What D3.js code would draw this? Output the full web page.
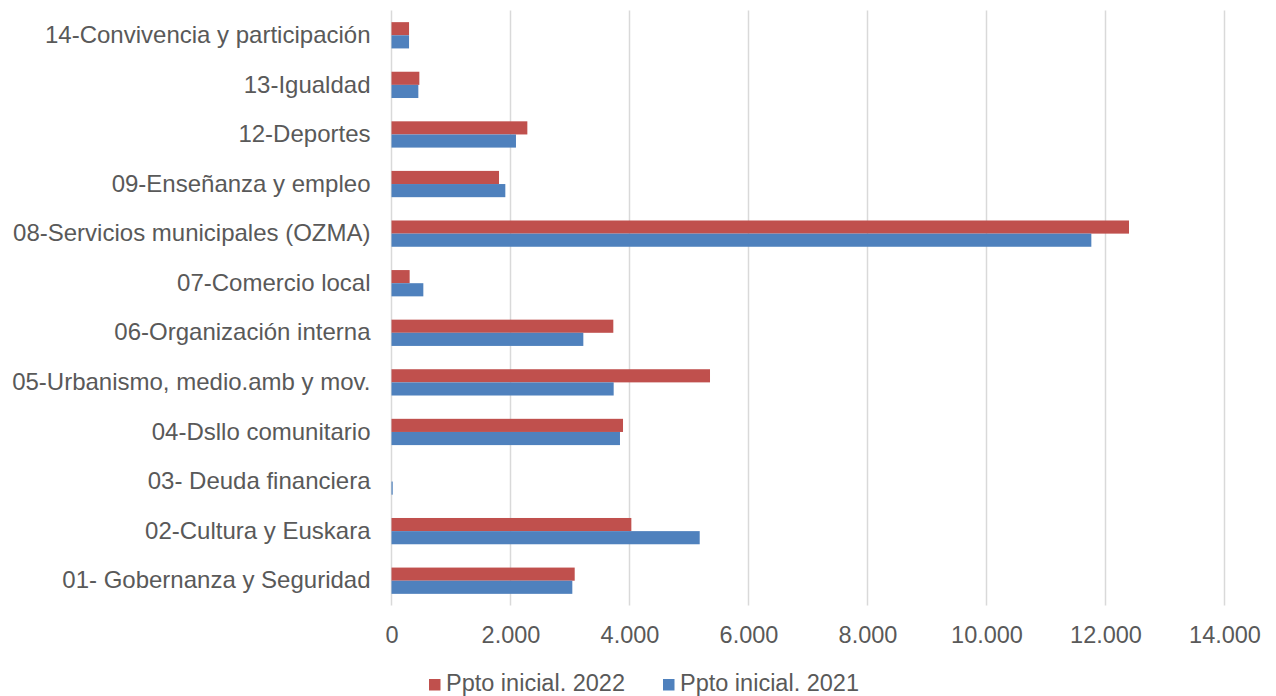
<!DOCTYPE html>
<html>
<head>
<meta charset="utf-8">
<script src="https://cdn.jsdelivr.net/npm/d3@7"></script>
<style>
body { margin: 0; background: #fff; }
text { font-family: "Liberation Sans", Arial, sans-serif; fill: #595959; }
</style>
</head>
<body>
<div id="chart"></div>
<script>
// categories, top to bottom
var categories = [
	"14-Convivencia y participación",
	"13-Igualdad",
	"12-Deportes",
	"09-Enseñanza y empleo",
	"08-Servicios municipales (OZMA)",
	"07-Comercio local",
	"06-Organización interna",
	"05-Urbanismo, medio.amb y mov.",
	"04-Dsllo comunitario",
	"03- Deuda financiera",
	"02-Cultura y Euskara",
	"01- Gobernanza y Seguridad"
];

// series values (thousands)
var ppto2022 = [295, 468, 2283, 1807, 12395, 305, 3728, 5353, 3891, 0, 4031, 3079];
var ppto2021 = [295, 451, 2092, 1913, 11762, 535, 3224, 3734, 3840, 20, 5180, 3039];

var tickValues = [0, 2000, 4000, 6000, 8000, 10000, 12000, 14000];
var tickLabels = ["0", "2.000", "4.000", "6.000", "8.000", "10.000", "12.000", "14.000"];

var seriesNames = ["Ppto inicial. 2022", "Ppto inicial. 2021"];
var colors = ["#c0504d", "#4f81bd"];

var width = 1276, height = 696;
var plotLeft = 391.5, plotRight = 1224.5, plotTop = 10.5, plotBottom = 605.5;

var svg = d3.select("#chart").append("svg")
	.attr("width", width)
	.attr("height", height);

var x = d3.scaleLinear().domain([0, 14000]).range([plotLeft, plotRight]);

var y = d3.scaleBand()
	.domain(categories)
	.range([plotTop, plotBottom])
	.paddingInner(0.47)
	.paddingOuter(0.235);

var inner = d3.scaleBand()
	.domain(seriesNames)
	.range([0, y.bandwidth()]);

// gridlines
svg.append("g")
	.selectAll("line")
	.data(tickValues)
	.enter()
	.append("line")
	.attr("x1", function(d) { return x(d); })
	.attr("x2", function(d) { return x(d); })
	.attr("y1", plotTop)
	.attr("y2", plotBottom)
	.attr("stroke", "#d9d9d9")
	.attr("stroke-width", 1.5);

// bars
var series = [ppto2022, ppto2021];
series.forEach(function(vals, i) {
	svg.append("g")
		.selectAll("rect")
		.data(vals)
		.enter()
		.append("rect")
		.attr("x", x(0))
		.attr("y", function(d, j) { return y(categories[j]) + inner(seriesNames[i]); })
		.attr("width", function(d) { return x(d) - x(0); })
		.attr("height", inner.bandwidth())
		.attr("fill", colors[i]);
});

// x axis labels
var xAxis = d3.axisBottom(x)
	.tickValues(tickValues)
	.tickFormat(function(d, i) { return tickLabels[i]; })
	.tickSize(0)
	.tickPadding(21);

var gx = svg.append("g")
	.attr("transform", "translate(0," + plotBottom + ")")
	.call(xAxis);
gx.select(".domain").remove();
gx.selectAll("text").style("font-size", "23.5px").attr("fill", "#595959");

// y axis labels
var yAxis = d3.axisLeft(y).tickSize(0).tickPadding(21);
var gy = svg.append("g")
	.attr("transform", "translate(" + plotLeft + ",0)")
	.call(yAxis);
gy.select(".domain").remove();
gy.selectAll("text").style("font-size", "24px").attr("fill", "#595959");

// legend
var legendX = [429, 663];
seriesNames.forEach(function(name, i) {
	var g = svg.append("g").attr("transform", "translate(" + legendX[i] + ",683)");
	g.append("rect")
		.attr("x", 0)
		.attr("y", -4)
		.attr("width", 11.5)
		.attr("height", 11.5)
		.attr("fill", colors[i]);
	g.append("text")
		.attr("x", 17)
		.attr("y", 0)
		.attr("dy", "0.32em")
		.style("font-size", "23.5px")
		.text(name);
});
</script>
</body>
</html>
